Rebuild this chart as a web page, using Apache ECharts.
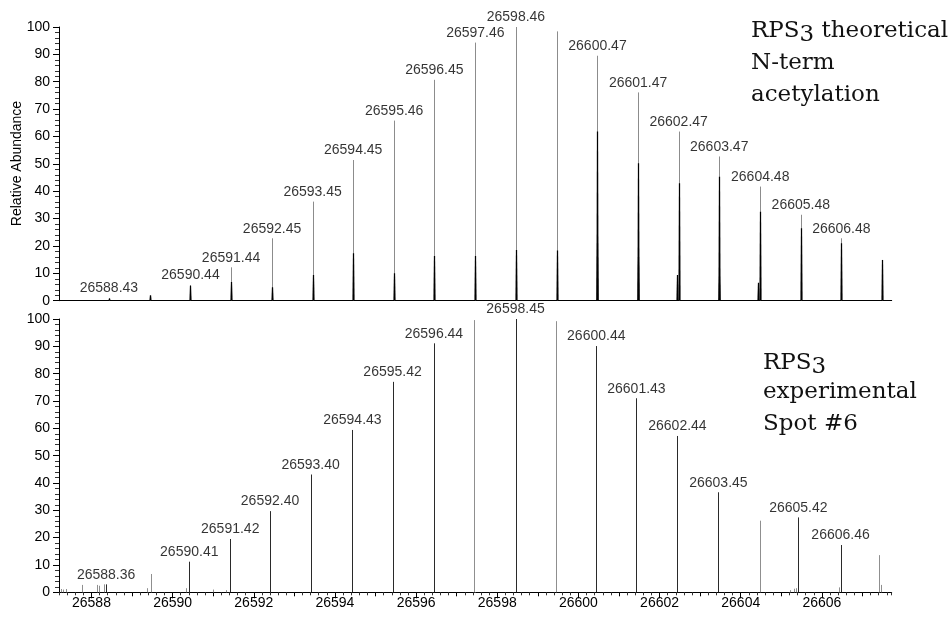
<!DOCTYPE html>
<html>
<head>
<meta charset="utf-8">
<script src="https://cdn.jsdelivr.net/npm/echarts@6/dist/echarts.min.js"></script>
<style>
  html, body { margin: 0; padding: 0; background: #fff; }
  #chart { width: 952px; height: 617px; }
</style>
</head>
<body>
<div id="chart"></div>
<script>
// Deconvoluted mass range shared by both spectra (Da)
const massMin = 26587.2;
const massMax = 26607.72;

// Tick labels on the mass axis and the unlabeled 1 Da ticks
const massTickLabels = [26588, 26590, 26592, 26594, 26596, 26598, 26600, 26602, 26604, 26606];
const massUnitTicks = [26588, 26589, 26590, 26591, 26592, 26593, 26594, 26595, 26596, 26597,
                       26598, 26599, 26600, 26601, 26602, 26603, 26604, 26605, 26606, 26607];

// RPS3 theoretical isotope envelope with N-terminal acetylation
const theoMass = [26588.43, 26589.44, 26590.44, 26591.44, 26592.45, 26593.45, 26594.45, 26595.46,
                  26596.45, 26597.46, 26598.46, 26599.46, 26600.47, 26601.47, 26602.47, 26603.47,
                  26604.48, 26605.48, 26606.48, 26607.48];
const theoCentroid = [1.0, 1.6, 5.7, 12.2, 22.8, 36.2, 51.4, 65.8, 80.7, 94.3, 100, 98.4,
                      89.5, 76.1, 61.8, 52.7, 41.7, 31.4, 22.8, 14.9];
const theoProfile = [0.8, 2.0, 5.5, 6.8, 4.9, 9.4, 17.3, 10.0, 16.3, 16.3, 18.5, 18.3,
                     61.8, 50.2, 42.9, 45.3, 32.5, 26.5, 21.0, 14.9];
const theoShoulderMass = [26600.46, 26601.46, 26602.42, 26603.46, 26604.43];
const theoShoulderHeight = [21.0, 16.0, 9.4, 8.8, 6.6];
const theoLabelMass = [26588.43, 26590.44, 26591.44, 26592.45, 26593.45, 26594.45, 26595.46,
                       26596.45, 26597.46, 26598.46, 26600.47, 26601.47, 26602.47, 26603.47,
                       26604.48, 26605.48, 26606.48];

// RPS3 experimental spectrum, spot #6
const expMass = [26587.24, 26587.30, 26587.38, 26587.77, 26588.14, 26588.18, 26588.30, 26588.36,
                 26589.37, 26589.46, 26590.34, 26590.41, 26591.00, 26591.31, 26591.42, 26592.40,
                 26593.40, 26594.43, 26595.42, 26596.44, 26597.43, 26598.45, 26599.45, 26600.44,
                 26601.43, 26602.44, 26603.45, 26604.48, 26605.22, 26605.31, 26605.36, 26605.42,
                 26606.41, 26606.46, 26607.41, 26607.46];
const expIntensity = [1.2, 1.0, 1.2, 2.7, 2.7, 2.4, 2.9, 2.9,
                      1.5, 6.7, 1.5, 11.2, 1.0, 0.8, 19.5, 29.7,
                      43.1, 59.4, 77.0, 91.1, 99.6, 100, 99.2, 90.1,
                      71.0, 57.2, 36.6, 26.2, 0.8, 1.3, 1.5, 27.4,
                      1.8, 17.3, 13.6, 2.7];
const expLabelMass = [26588.36, 26590.41, 26591.42, 26592.40, 26593.40, 26594.43, 26595.42,
                      26596.44, 26598.45, 26600.44, 26601.43, 26602.44, 26603.45, 26605.42, 26606.46];

const labelFont = 'Liberation Sans, Arial, sans-serif';
const titleFont = '23px "DejaVu Serif", serif';

function pairs(xs, ys) { return xs.map((x, i) => [x, ys[i]]); }
function lookup(masses, xs, ys) { return masses.map(m => [m, ys[xs.indexOf(m)]]); }

const expLabeled = lookup(expLabelMass, expMass, expIntensity);
const expOther = pairs(expMass, expIntensity).filter(p => expLabelMass.indexOf(p[0]) < 0);

// thin vertical stick from the baseline up to the intensity
function stick(color) {
  return function (params, api) {
    const base = api.coord([api.value(0), 0]);
    const tip = api.coord([api.value(0), api.value(1)]);
    const x = Math.round(base[0]) + 0.5;
    return { type: 'line', silent: true,
      shape: { x1: x, y1: base[1], x2: x, y2: tip[1] },
      style: { stroke: color, lineWidth: 1 } };
  };
}
// narrow profile peak, slightly wider at its foot
function profile(color) {
  return function (params, api) {
    const base = api.coord([api.value(0), 0]);
    const tip = api.coord([api.value(0), api.value(1)]);
    const cx = Math.round(base[0]) + 0.5;
    return { type: 'polygon', silent: true,
      shape: { points: [[cx - 1.1, base[1]], [cx - 0.6, tip[1]], [cx + 0.6, tip[1]], [cx + 1.1, base[1]]] },
      style: { fill: color } };
  };
}

function peakLabels(data, xi, yi) {
  return {
    type: 'scatter', xAxisIndex: xi, yAxisIndex: yi, data: data,
    symbol: 'circle', symbolSize: 1, silent: true, z: 5,
    itemStyle: { color: 'transparent' },
    label: { show: true, position: 'top', distance: 2, color: '#000',
             fontFamily: labelFont, fontSize: 14,
             formatter: p => p.value[0].toFixed(2) }
  };
}

function intensityAxis(gridIndex) {
  return {
    type: 'value', gridIndex: gridIndex, min: 0, max: 100, interval: 10,
    axisLine: { show: true, lineStyle: { color: '#000', width: 1 } },
    axisTick: { show: true, length: 6, lineStyle: { color: '#000' } },
    minorTick: { show: true, splitNumber: 5, length: 4, lineStyle: { color: '#333' } },
    axisLabel: { show: true, color: '#000', fontFamily: labelFont, fontSize: 14, margin: 9 },
    splitLine: { show: false }, minorSplitLine: { show: false }
  };
}

// extra tick rows drawn under the labeled mass axis
function tickRow(extra) {
  return Object.assign({
    type: 'value', gridIndex: 1, min: massMin, max: massMax, position: 'bottom', offset: 0,
    axisLine: { show: false, onZero: false },
    axisLabel: { show: false }, splitLine: { show: false }
  }, extra);
}

const chart = echarts.init(document.getElementById('chart'), null, { renderer: 'canvas' });

const measureCtx = document.createElement('canvas').getContext('2d');
measureCtx.font = titleFont;
const w = s => measureCtx.measureText(s).width;

function serifLine(x, y, text) {
  return { type: 'text', x: x, y: y, silent: true,
    style: { text: text, font: titleFont, fill: '#111', textVerticalAlign: 'middle' } };
}
// "RPS3" with an old-style figure that sits below the baseline
function rps3(x, y, rest) {
  const els = [serifLine(x, y, 'RPS'), serifLine(x + w('RPS'), y + 4, '3')];
  if (rest) els.push(serifLine(x + w('RPS3'), y, rest));
  return els;
}

chart.setOption({
  animation: false,
  backgroundColor: '#fff',
  grid: [
    { left: 59, top: 27, width: 832.7, height: 273.7 },
    { left: 59, top: 319, width: 832.7, height: 273.3 }
  ],
  xAxis: [
    { type: 'value', gridIndex: 0, min: massMin, max: massMax, position: 'bottom',
      axisLine: { show: true, onZero: false, lineStyle: { color: '#000' } },
      axisTick: { show: false }, axisLabel: { show: false }, splitLine: { show: false } },
    { type: 'value', gridIndex: 1, min: massMin, max: massMax, position: 'bottom',
      axisLine: { show: true, onZero: false, lineStyle: { color: '#000' } },
      axisTick: { show: true, length: 6, customValues: massTickLabels, lineStyle: { color: '#000' } },
      axisLabel: { show: true, customValues: massTickLabels, color: '#000', fontFamily: labelFont,
                   fontSize: 14, margin: 4, formatter: v => String(v) },
      splitLine: { show: false } },
    tickRow({ interval: 0.2, axisTick: { show: true, length: 3, lineStyle: { color: '#333' } } }),
    tickRow({ axisTick: { show: true, length: 4, customValues: massUnitTicks, lineStyle: { color: '#000' } } })
  ],
  yAxis: [intensityAxis(0), intensityAxis(1)],
  series: [
    { type: 'custom', xAxisIndex: 0, yAxisIndex: 0, z: 2,
      data: pairs(theoMass, theoCentroid), renderItem: stick('#8c8c8c') },
    { type: 'custom', xAxisIndex: 0, yAxisIndex: 0, z: 3,
      data: pairs(theoMass, theoProfile), renderItem: profile('#000') },
    { type: 'custom', xAxisIndex: 0, yAxisIndex: 0, z: 3,
      data: pairs(theoShoulderMass, theoShoulderHeight), renderItem: profile('#000') },
    peakLabels(lookup(theoLabelMass, theoMass, theoCentroid), 0, 0),
    { type: 'custom', xAxisIndex: 1, yAxisIndex: 1, z: 2,
      data: expOther, renderItem: stick('#8f8f8f') },
    { type: 'custom', xAxisIndex: 1, yAxisIndex: 1, z: 3,
      data: expLabeled, renderItem: stick('#2a2a2a') },
    peakLabels(expLabeled, 1, 1)
  ],
  graphic: [
    { type: 'text', x: 17, y: 163.5, rotation: Math.PI / 2, silent: true,
      style: { text: 'Relative Abundance', font: '14px ' + labelFont, fill: '#000',
               textAlign: 'center', textVerticalAlign: 'middle' } },
    ...rps3(751, 31.5, ' theoretical'),
    serifLine(751, 63.5, 'N-term'),
    serifLine(751, 95.5, 'acetylation'),
    ...rps3(763, 363),
    serifLine(763, 392.5, 'experimental'),
    serifLine(763, 424.5, 'Spot #6')
  ]
});
</script>
</body>
</html>
